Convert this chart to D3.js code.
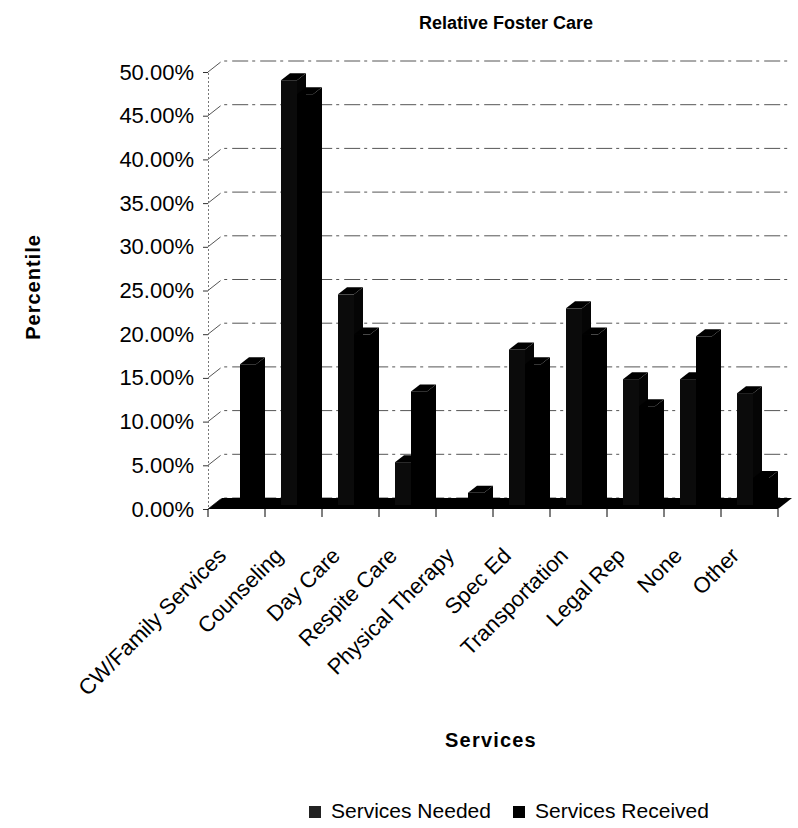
<!DOCTYPE html>
<html>
<head>
<meta charset="utf-8">
<script src="https://cdn.jsdelivr.net/npm/d3@7"></script>
<style>
  body { margin: 0; background: #fff; }
  text { font-family: "Liberation Sans", Arial, sans-serif; fill: #000; }
</style>
</head>
<body>
<script>
// chart values
const categories = ["CW/Family Services", "Counseling", "Day Care", "Respite Care", "Physical Therapy",
  "Spec Ed", "Transportation", "Legal Rep", "None", "Other"];
const seriesNames = ["Services Needed", "Services Received"];
const servicesNeeded = [0, 48.6, 24.1, 4.9, 0, 17.8, 22.5, 14.4, 14.4, 12.8];
const servicesReceived = [16.1, 47.0, 19.5, 13.0, 1.4, 16.1, 19.5, 11.3, 19.3, 3.1];
const yTicks = [0, 5, 10, 15, 20, 25, 30, 35, 40, 45, 50];

const width = 798, height = 828;

const svg = d3.select("body").append("svg")
  .attr("width", width)
  .attr("height", height);

// front plane scales
const x = d3.scaleBand()
  .domain(categories)
  .range([208, 778]);
const y = d3.scaleLinear()
  .domain([0, 50])
  .range([509, 72]);

// depth of the 3d box, and where the bars sit inside it
const depth = {dx: 14, dy: -11};
const barPos = {dx: 5, dy: -4};
const barDepth = {dx: 9, dy: -7};

const xs = d3.scaleBand()
  .domain(seriesNames)
  .range([16 - barPos.dx, 48 - barPos.dx]);

const colors = {"Services Needed": ["#0b0b0b", "#050505", "#000"],
  "Services Received": ["#000", "#000", "#000"]};

//Title
svg.append("text")
  .attr("x", 506)
  .attr("y", 29)
  .attr("text-anchor", "middle")
  .attr("font-size", "18px")
  .attr("font-weight", "bold")
  .text("Relative Foster Care");

//Back wall gridlines plus the little diagonal on the side wall
const grid = svg.append("g");
yTicks.forEach((t) => {
  grid.append("path")
    .attr("d", d3.line()([[x.range()[0], y(t)], [x.range()[0] + depth.dx, y(t) + depth.dy], [x.range()[1] + depth.dx, y(t) + depth.dy]]))
    .attr("fill", "none")
    .attr("stroke", "#555")
    .attr("stroke-width", 1)
    .attr("stroke-dasharray", "16,4,3,5");
});

//Y axis
const yAxis = svg.append("g")
  .attr("transform", "translate(208,0)")
  .call(d3.axisLeft(y).tickValues(yTicks).tickSize(5).tickPadding(9)
    .tickFormat((d) => d3.format(".2f")(d) + "%"));
yAxis.select(".domain").attr("stroke", "#777").attr("stroke-dasharray", "2,2");
yAxis.selectAll(".tick line").attr("stroke", "#333");
yAxis.selectAll("text")
  .attr("font-size", "22px")
  .attr("font-family", "'Liberation Sans', Arial, sans-serif");

//Floor
const [fx0, fx1] = x.range();
svg.append("path")
  .attr("d", d3.line()([[fx0, y(0)], [fx1, y(0)], [fx1 + depth.dx, y(0) + depth.dy], [fx0 + depth.dx, y(0) + depth.dy]]) + "Z")
  .attr("fill", "#000");

//Category ticks under the floor
svg.append("g")
  .selectAll("line")
  .data(categories.concat([null]))
  .enter()
  .append("line")
    .attr("x1", (d, i) => fx0 + i * x.bandwidth())
    .attr("x2", (d, i) => fx0 + i * x.bandwidth())
    .attr("y1", y(0))
    .attr("y2", y(0) + 8)
    .attr("stroke", "#000");

//3d bars: side face, top face, front face
const bars = [];
categories.forEach((c, i) => {
  bars.push({cat: c, series: seriesNames[0], value: servicesNeeded[i]});
  bars.push({cat: c, series: seriesNames[1], value: servicesReceived[i]});
});

const barG = svg.append("g")
  .attr("transform", "translate(" + barPos.dx + "," + barPos.dy + ")");

bars.forEach((d) => {
  const x0 = x(d.cat) + xs(d.series);
  const x1 = x0 + xs.bandwidth();
  const yt = y(d.value);
  const yb = y(0);
  const g = barG.append("g");
  g.append("path") // side
    .attr("d", d3.line()([[x1, yb], [x1 + barDepth.dx, yb + barDepth.dy], [x1 + barDepth.dx, yt + barDepth.dy], [x1, yt]]) + "Z")
    .attr("fill", colors[d.series][1]);
  g.append("path") // top
    .attr("d", d3.line()([[x0, yt], [x1, yt], [x1 + barDepth.dx, yt + barDepth.dy], [x0 + barDepth.dx, yt + barDepth.dy]]) + "Z")
    .attr("fill", colors[d.series][2]);
  g.append("rect") // front
    .attr("x", x0)
    .attr("y", yt)
    .attr("width", xs.bandwidth())
    .attr("height", yb - yt)
    .attr("fill", colors[d.series][0]);
});

//Category labels, rotated
svg.append("g")
  .selectAll("text")
  .data(categories)
  .enter()
  .append("text")
    .attr("transform", (d) => "translate(" + (x(d) + x.bandwidth() / 2 - 9) + ",557) rotate(-45)")
    .attr("text-anchor", "end")
    .attr("font-size", "22px")
    .text((d) => d);

//Axis titles
svg.append("text")
  .attr("transform", "translate(40,287) rotate(-90)")
  .attr("text-anchor", "middle")
  .attr("font-size", "20px")
  .attr("font-weight", "bold")
  .attr("letter-spacing", "1px")
  .text("Percentile");

svg.append("text")
  .attr("x", 491)
  .attr("y", 747)
  .attr("text-anchor", "middle")
  .attr("font-size", "20px")
  .attr("font-weight", "bold")
  .attr("letter-spacing", "1.2px")
  .text("Services");

//Legend
const legendX = [309, 513];
const legend = svg.append("g");
seriesNames.forEach((s, i) => {
  legend.append("rect")
    .attr("x", legendX[i])
    .attr("y", 806)
    .attr("width", 12)
    .attr("height", 12)
    .attr("fill", i === 0 ? "#222" : "#000");
  legend.append("text")
    .attr("x", legendX[i] + 22)
    .attr("y", 818)
    .attr("font-size", "21px")
    .text(s);
});
</script>
</body>
</html>
